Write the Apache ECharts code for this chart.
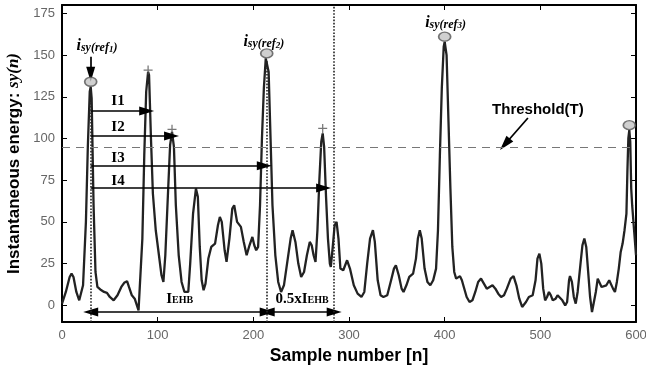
<!DOCTYPE html>
<html><head><meta charset="utf-8">
<script src="https://cdn.jsdelivr.net/npm/echarts@6/dist/echarts.min.js"></script>
<style>html,body{margin:0;padding:0;background:#fff}#c{width:646px;height:373px}</style>
</head><body><div id="c"></div>
<script>
// ---- data ----
const sampleN = [0,4,8,10,12,15,18,20,22,25,27,29,30,31,33,35,37,40,44,47,50,54,58,62,65,68,70,73,76,78,80,82,84,86,88,90,91,93,95,98,102,104,106,108,111,113,115,117,119,122,125,128,130,132,134,137,140,142,144,146,148,150,153,156,160,163,165,167,170,172,175,178,180,183,187,190,193,196,199,201,203,205,207,209,211,213,214,216,218,220,223,226,229,232,236,239,241,244,247,250,253,256,259,261,263,265,267,269,271,272.5,274,276,278,280,281,283,285,287,289,291,294,298,301,305,309,313,316,319,322,325,327,330,333,336,340,344,347,349,352,355,357,360,363,367,370,372,374,376,379,382,385,388,391,393,395,397,399,400,402,404,406,408,410,412,414,416,418,420,423,426,429,432,435,438,441,444,447,450,453,456,459,462,465,469,472,475,478,481,483,485,488,492,495,497,499,501,503,505,507,509,511,513,516,518,520,523,526,528,530,531,533,535,537,539,542,544,546,548,550,552,554,556,558,560,562,564,566,569,572,574,576,578,580,582,584,586,588,590,591,592,593,594,595,596,598,600];
const energy  = [1,8,17,19,17,8,3,3,12,50,95,128,131,124,60,20,11,9.5,8,7.5,5,3,6,11,13.5,14.5,11,6,4,3,-3,-2,40,90,128,140,138,100,67,45,27,18,14,30,70,96,104,95,60,30,14,8,7,8,25,55,70,65,35,15,9,13,28,35,37,48,53,50,33,26,40,58,60,50,47,38,30,36,41,36,33,35,60,100,130,148,149,140,100,60,30,14,8,12,28,40,45,38,25,17,20,30,38,36,30,26,45,75,98,103,95,65,40,25,23,35,48,50,40,22,21,27,22,12,7,5,8,25,40,45,38,15,6,5,6,15,22,24,18,10,8,12,17,19,28,40,45,40,22,14,12,15,22,45,90,130,155,158,150,110,70,35,20,16,17,17.5,15,11,5,2,3,8,14,16,13,10,11,12,10,7,5,6,10,16,17.5,12,4,-1,-2,2,5,6,15,28,31,25,10,3,5,8,6,3,4,6,6,3,0,2,15,17.5,14,5,1,8,25,36,40,35,20,5,-4,-3,8,16,15,11,10,12,15,15,10,8,14,22,32,37,45,55,80,100,105,98,70,60,45,30];
const yTickValues = [0,25,50,75,100,125,150,175];
const thresholdT = 95;
const refPeaks  = [[30,134],[214,151],[400,161],[593,108]];
const candPeaks = [[90,141],[115,105.5],[272.5,106]];
const intervalNames = ['I1','I2','I3','I4'];
const intervalStart = 30;
const intervalEnds  = [88.5,114.5,211.5,273.5];
const intervalLevels= [116.5,101.5,83.7,70.3];
const ehbStart = 30, ehbEnd = 214.5, halfEnd = 284.5;
const refNames = ['1','2','3'];

// ---- annotation placement (data coords) ----
const FS = 'Liberation Sans', FR = 'Liberation Serif';
const curve = sampleN.map((n,i)=>[n,energy[i]]);

const arrowLines = [];
function arrow(x1,y1,x2,y2,s1,s2,style){
  arrowLines.push([{coord:[x1,y1],symbol:s1,symbolSize:[9,15],lineStyle:style},{coord:[x2,y2],symbol:s2,symbolSize:[9,15]}]);
}
const solid = {type:'solid',color:'#000',width:1.7};
const dotted = {type:'dotted',color:'#222',width:1.6};
intervalNames.forEach((nm,i)=>arrow(intervalStart,intervalLevels[i],intervalEnds[i],intervalLevels[i],'none','triangle',solid));
arrow(ehbStart,-4,ehbEnd,-4,'triangle','triangle',solid);
arrow(ehbEnd,-4,halfEnd,-4,'triangle','triangle',solid);
arrow(30,149,30,138.5,'none','triangle',solid);
arrow(487,112.3,463,96.5,'none','triangle',solid);
arrowLines.push([{coord:[30,-10],symbol:'none',lineStyle:dotted},{coord:[30,127],symbol:'none'}]);
arrowLines.push([{coord:[214.5,-10],symbol:'none',lineStyle:dotted},{coord:[214.5,147],symbol:'none'}]);
arrowLines.push([{coord:[284.5,-10],symbol:'none',lineStyle:dotted},{coord:[284.5,180],symbol:'none'}]);
arrowLines.push([{coord:[0,thresholdT],symbol:'none',lineStyle:{type:[8,6],color:'#777',width:1.2}},{coord:[600,thresholdT],symbol:'none'}]);

const richRef = {
  i:{fontFamily:FR,fontStyle:'italic',fontWeight:'bold',fontSize:16,color:'#000'},
  s:{fontFamily:FR,fontStyle:'italic',fontWeight:'bold',fontSize:12,color:'#000',padding:[4,0,0,0]},
  d:{fontFamily:FR,fontStyle:'italic',fontWeight:'bold',fontSize:9,color:'#000',padding:[7,0,0,0]}
};
const richI = {
  a:{fontFamily:FR,fontWeight:'bold',fontSize:15,color:'#000'},
  b:{fontFamily:FR,fontWeight:'bold',fontSize:10,color:'#000',padding:[3,0,0,0]}
};
const textItems = [];
const ip = [[58.5,122.5],[58.5,107],[58.5,88.5],[58.5,74.7]];
intervalNames.forEach((nm,i)=>textItems.push({value:ip[i],label:{formatter:'{a|'+nm+'}',rich:richI}}));
textItems.push({value:[123,3.8],label:{formatter:'{a|I}{b|EHB}',rich:richI}});
textItems.push({value:[251,3.8],label:{formatter:'{a|0.5xI}{b|EHB}',rich:richI}});
const rp = [[36.5,155.5],[211,158],[401,169.5]];
refNames.forEach((r,i)=>textItems.push({value:rp[i],label:{formatter:'{i|i}{s|sy(ref}{d|'+r+'}{s|)}',rich:richRef}}));
textItems.push({value:[497.5,117],label:{formatter:'Threshold(T)',fontFamily:FS,fontWeight:'bold',fontSize:15,color:'#000'}});

const plusPath = 'path://M4,0h1.4v4.3h4.3v1.4h-4.3v4.3h-1.4v-4.3h-4.3v-1.4h4.3z';
const axLine = {show:true,onZero:false,lineStyle:{color:'#000',width:2}};

const chart = echarts.init(document.getElementById('c'),null,{renderer:'canvas'});
chart.setOption({
  animation:false,
  backgroundColor:'#fff',
  grid:{left:62,right:10,top:5,bottom:51,containLabel:false,outerBoundsMode:'none'},
  xAxis:[{
    type:'value',min:0,max:600,interval:100,
    name:'Sample number [n]',nameLocation:'middle',nameGap:25,
    nameTextStyle:{fontFamily:FS,fontWeight:'bold',fontSize:17.5,color:'#000'},
    axisLine:axLine,
    axisTick:{show:true,inside:true,length:5,lineStyle:{color:'#000',width:1}},
    axisLabel:{fontFamily:FS,fontSize:13,color:'#666',margin:7},
    splitLine:{show:false}
  },{
    type:'value',min:0,max:600,interval:100,position:'top',
    axisLine:axLine,
    axisTick:{show:true,inside:true,length:5,lineStyle:{color:'#000',width:1}},
    axisLabel:{show:false},splitLine:{show:false}
  }],
  yAxis:[{
    type:'value',min:-10,max:180,
    name:'{a|Instantaneous energy: }{b|sy(n)}',nameLocation:'middle',nameGap:37,nameRotate:90,
    nameTextStyle:{rich:{
      a:{fontFamily:FS,fontWeight:'bold',fontSize:17,color:'#000'},
      b:{fontFamily:FR,fontStyle:'italic',fontWeight:'bold',fontSize:17,color:'#000'}}},
    axisLine:axLine,
    axisTick:{show:true,inside:true,length:5,customValues:yTickValues,lineStyle:{color:'#000',width:1}},
    axisLabel:{fontFamily:FS,fontSize:13,color:'#666',margin:7,customValues:yTickValues},
    splitLine:{show:false}
  },{
    type:'value',min:-10,max:180,position:'right',
    axisLine:axLine,
    axisTick:{show:true,inside:true,length:5,customValues:yTickValues,lineStyle:{color:'#000',width:1}},
    axisLabel:{show:false},splitLine:{show:false}
  }],
  series:[{
    type:'line',data:curve,showSymbol:false,symbol:'none',smooth:false,
    lineStyle:{color:'#222',width:2.3},z:3,
    markLine:{silent:true,animation:false,label:{show:false},data:arrowLines}
  },{
    type:'scatter',data:candPeaks,symbol:plusPath,symbolSize:9,
    itemStyle:{color:'#555'},z:5
  },{
    type:'scatter',data:refPeaks,symbol:'circle',symbolSize:[12,9],
    itemStyle:{color:'#c4c4c4',borderColor:'#555',borderWidth:1.5},z:6
  },{
    type:'scatter',data:textItems,symbolSize:2,itemStyle:{color:'rgba(0,0,0,0)'},z:7,silent:true,
    label:{show:true,position:'inside',color:'#000',opacity:1,textBorderWidth:0,textShadowBlur:0},
    labelLayout:{hideOverlap:false}
  }]
});
</script></body></html>
